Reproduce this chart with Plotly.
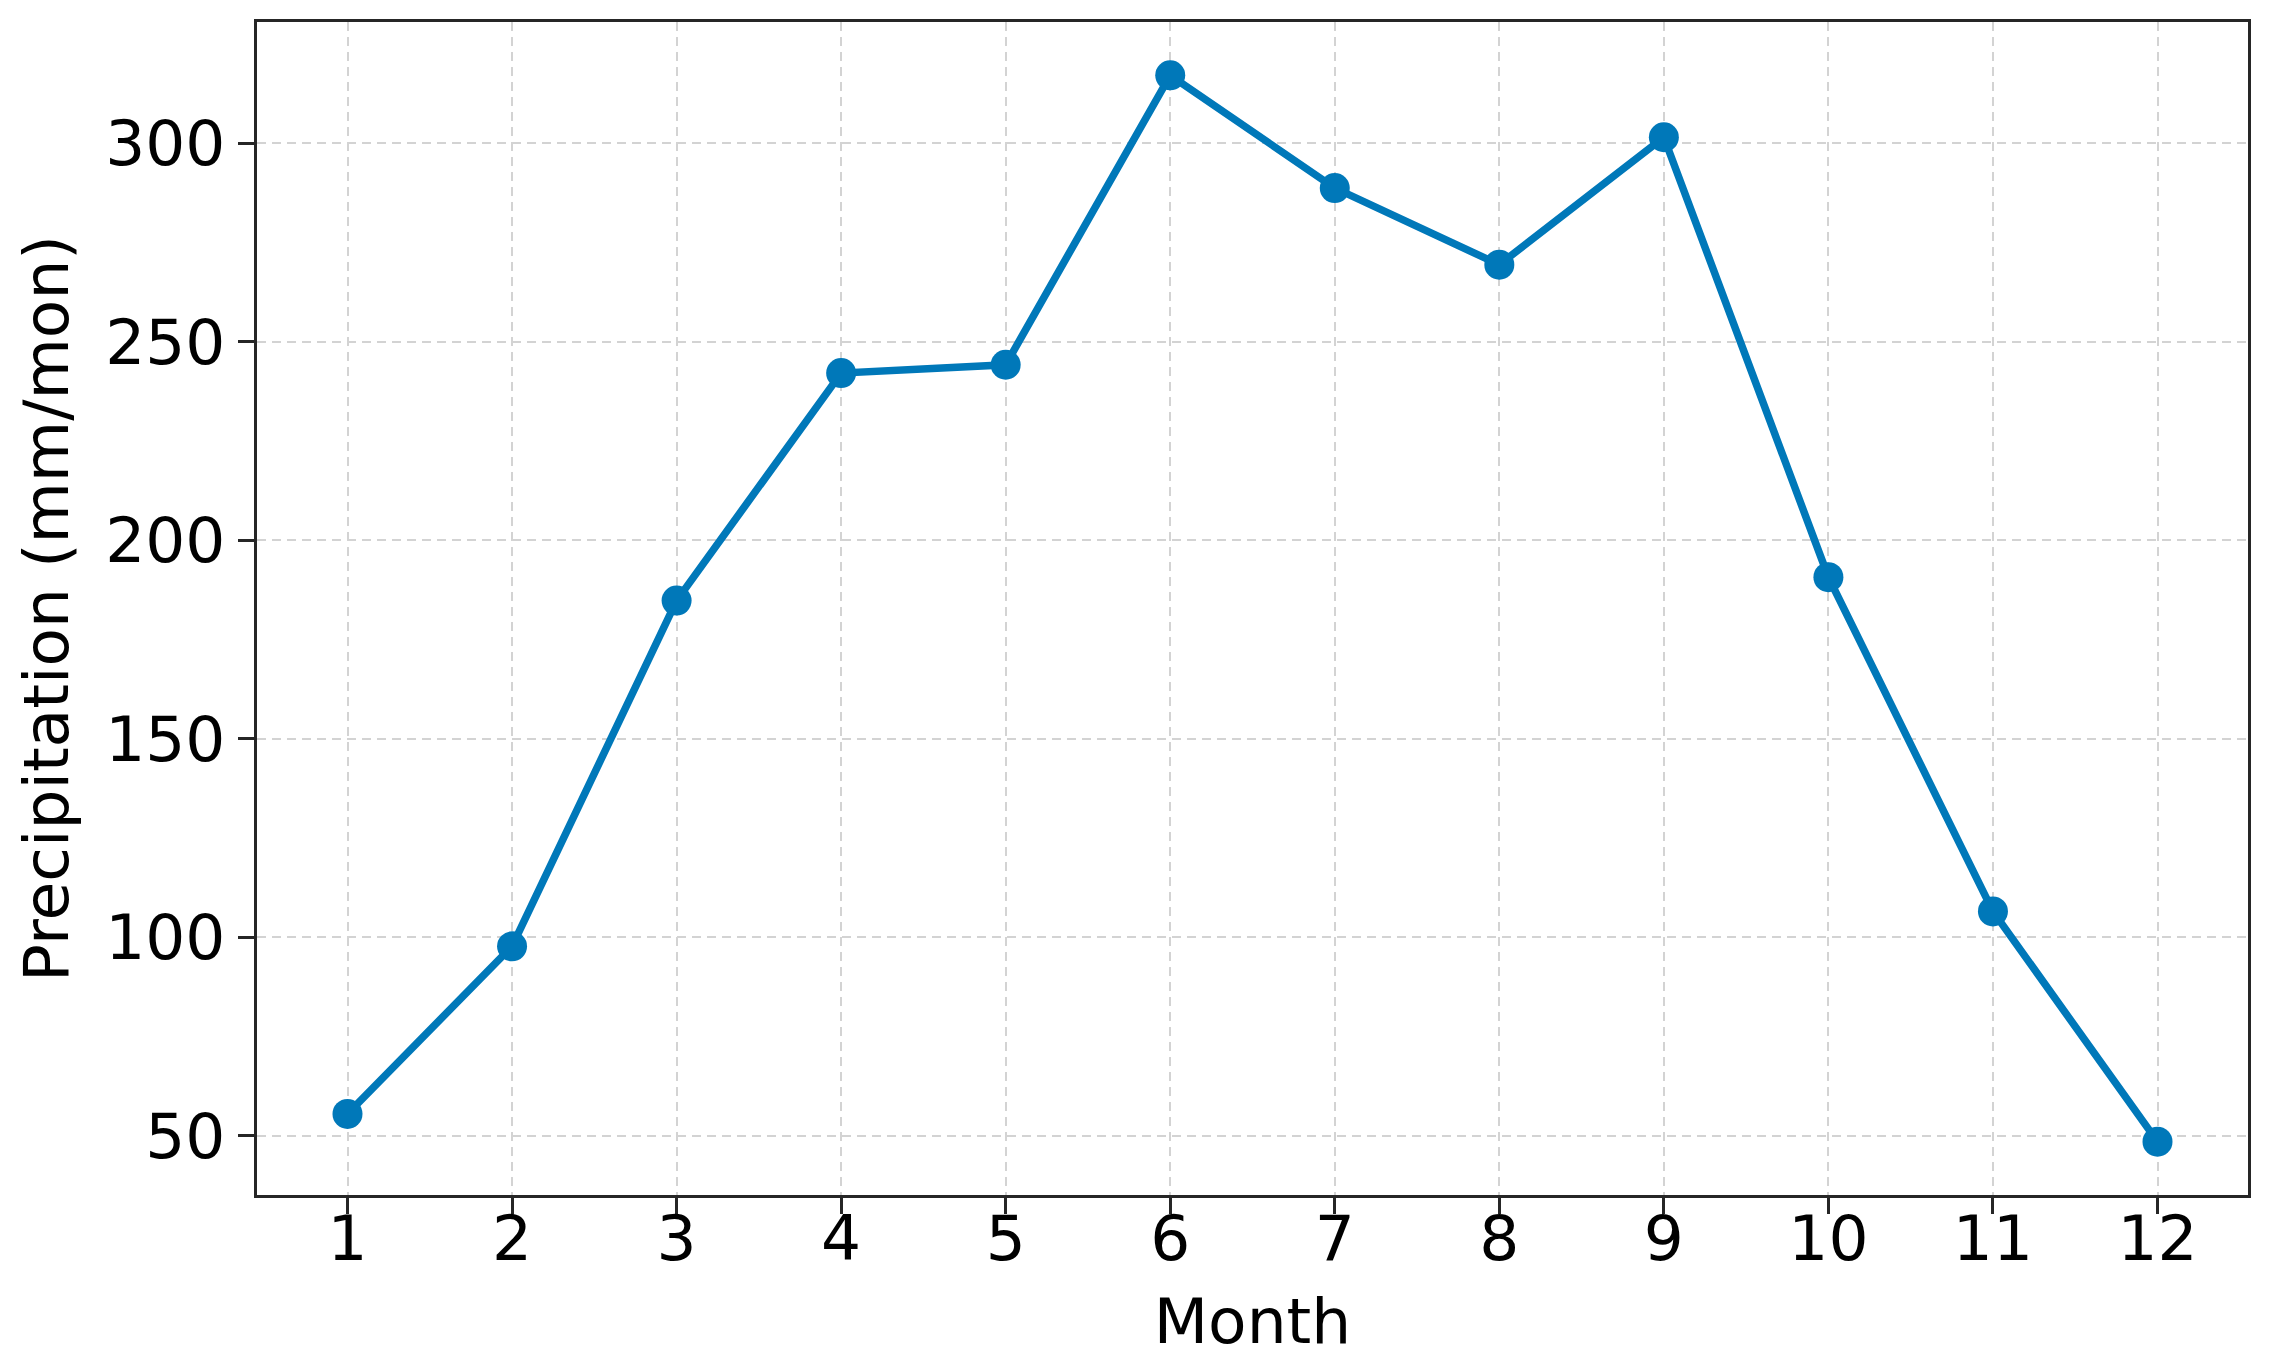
import plotly.graph_objects as go

months = [1, 2, 3, 4, 5, 6, 7, 8, 9, 10, 11, 12]
precip = [55.5, 97.7, 184.8, 242.1, 244.2, 317.1, 288.7, 269.4, 301.5, 190.7, 106.5, 48.5]
x_tick_vals = months
x_tick_text = [str(m) for m in months]
y_tick_vals = [50, 100, 150, 200, 250, 300]
y_tick_text = ["50", "100", "150", "200", "250", "300"]

FONT = "DejaVu Sans"
LINE_COLOR = "#0078b9"
AX = "#262626"

fig = go.Figure()
fig.add_trace(go.Scatter(
    x=months, y=precip, mode="lines+markers",
    line=dict(color=LINE_COLOR, width=7.5),
    marker=dict(color=LINE_COLOR, size=30),
    showlegend=False,
))

axis_common = dict(
    showline=True, mirror=True, linecolor=AX, linewidth=3,
    ticks="outside", ticklen=16, tickwidth=3, tickcolor=AX,
    showgrid=True, gridcolor="#d3d3d3", gridwidth=2, griddash="9px,6px",
    zeroline=False, automargin=False,
    tickfont=dict(family=FONT, size=63, color="black"),
)

fig.update_layout(
    width=2261, height=1354,
    margin=dict(l=249, r=21, t=14, b=167),
    paper_bgcolor="white", plot_bgcolor="white",
    xaxis=dict(
        range=[0.45, 12.55], tickmode="array", tickvals=x_tick_vals, ticktext=x_tick_text,
        ticklabelstandoff=-30,
        title=dict(text="Month", font=dict(family=FONT, size=63, color="black"), standoff=26),
        **axis_common,
    ),
    yaxis=dict(
        range=[35.07, 330.53], tickmode="array", tickvals=y_tick_vals, ticktext=y_tick_text,
        title=dict(text="Precipitation (mm/mon)", font=dict(family=FONT, size=63, color="black"), standoff=17),
        **axis_common,
    ),
)

fig.write_html("out.html")
